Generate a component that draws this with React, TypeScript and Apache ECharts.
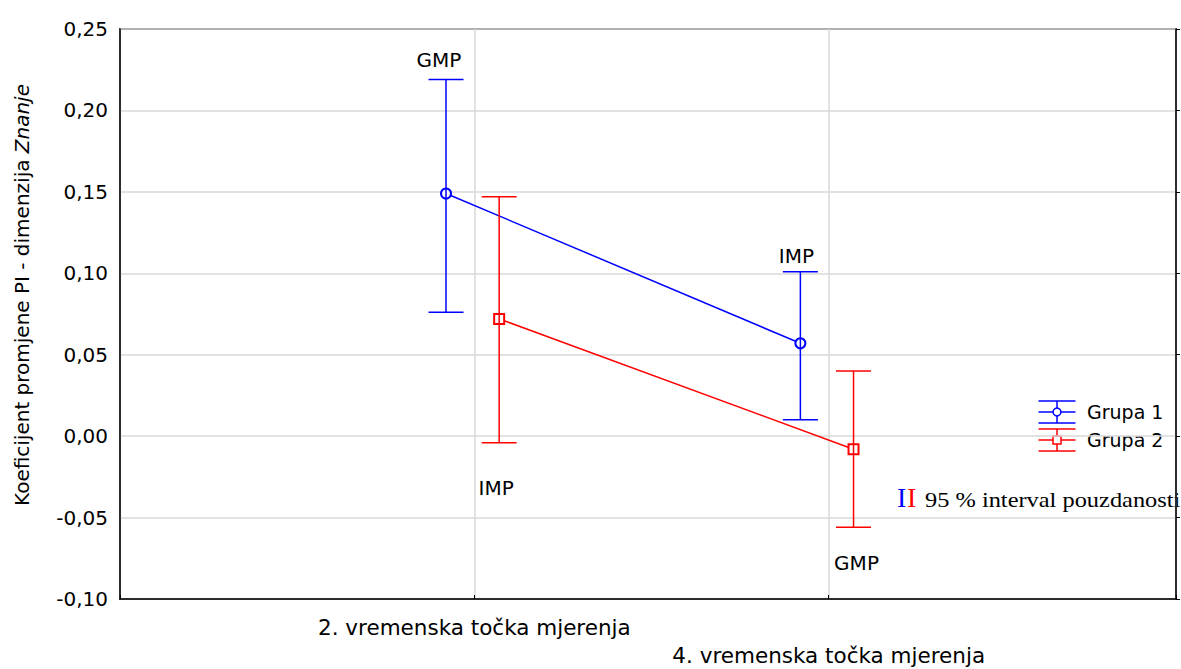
import React, { useEffect, useRef } from "react";
import * as echarts from "echarts";

// ---- data ----
const categories = ["2. vremenska točka mjerenja", "4. vremenska točka mjerenja"];
const seriesNames = ["Grupa 1", "Grupa 2"];
const group1Mean = [0.149, 0.057];
const group1Low = [0.076, 0.010];
const group1High = [0.219, 0.101];
const group2Mean = [0.072, -0.008];
const group2Low = [-0.004, -0.056];
const group2High = [0.147, 0.040];
const group1Notes = ["GMP", "IMP"];
const group2Notes = ["IMP", "GMP"];
const yTicks = { min: -0.1, max: 0.25, step: 0.05 };

const BLUE = "#0000ff";
const RED = "#ff0000";
const SANS = "DejaVu Sans";
const SERIF = "Liberation Serif";

// layout (styling) constants
const groupShift = [-0.08, 0.07];
// label offsets in pixels relative to the cap (above for group 1, below for group 2)
const noteOffsets = [
  [[-7, -19], [-4, -16]],
  [[-3, 45], [3, 36]],
];

export default function App() {
  const ref = useRef<HTMLDivElement | null>(null);

  useEffect(() => {
    document.body.style.margin = "0";
    if (!ref.current) return;
    const chart = echarts.init(ref.current, undefined, { renderer: "svg" });

    const groups = [
      { name: seriesNames[0], mean: group1Mean, lo: group1Low, hi: group1High, notes: group1Notes, color: BLUE, symbol: "emptyCircle" },
      { name: seriesNames[1], mean: group2Mean, lo: group2Low, hi: group2High, notes: group2Notes, color: RED, symbol: "emptyRect" },
    ];

    const series: any[] = [];
    groups.forEach((g, gi) => {
      series.push({
        name: g.name,
        type: "line",
        data: categories.map((_, i) => [i + 1 + groupShift[gi], g.mean[i]]),
        symbol: g.symbol,
        symbolSize: 10,
        lineStyle: { color: g.color, width: 1.5 },
        itemStyle: { color: g.color, borderColor: g.color, borderWidth: 1.5 },
        z: 3,
      });
      series.push({
        name: g.name + " CI",
        type: "custom",
        data: categories.map((_, i) => [i + 1 + groupShift[gi], g.lo[i], g.hi[i], i]),
        z: 4,
        renderItem: (params: any, api: any) => {
          const x = api.value(0);
          const lo = api.value(1);
          const hi = api.value(2);
          const idx = api.value(3);
          const top = api.coord([x, hi]);
          const bot = api.coord([x, lo]);
          const hw = 17.5;
          const st = { stroke: g.color, lineWidth: 1.5 };
          const off = noteOffsets[gi][idx];
          const anchor = gi === 0 ? top : bot;
          return {
            type: "group",
            children: [
              { type: "line", shape: { x1: top[0], y1: top[1], x2: bot[0], y2: bot[1] }, style: st },
              { type: "line", shape: { x1: top[0] - hw, y1: top[1], x2: top[0] + hw, y2: top[1] }, style: st },
              { type: "line", shape: { x1: bot[0] - hw, y1: bot[1], x2: bot[0] + hw, y2: bot[1] }, style: st },
              {
                type: "text",
                x: anchor[0] + off[0],
                y: anchor[1] + off[1],
                style: {
                  text: g.notes[idx],
                  fill: "#000",
                  fontSize: 20,
                  fontFamily: SANS,
                  align: "center",
                  verticalAlign: "middle",
                },
              },
            ],
          };
        },
      });
    });

    const legendGraphics: any[] = [];
    groups.forEach((g, gi) => {
      const cx = 1057;
      const cy = 412 + gi * 28;
      const st = { stroke: g.color, lineWidth: 1.5 };
      legendGraphics.push(
        { type: "line", shape: { x1: cx - 18.5, y1: cy - 11, x2: cx + 18.5, y2: cy - 11 }, style: st },
        { type: "line", shape: { x1: cx - 18.5, y1: cy, x2: cx + 18.5, y2: cy }, style: st },
        { type: "line", shape: { x1: cx - 18.5, y1: cy + 11, x2: cx + 18.5, y2: cy + 11 }, style: st },
        { type: "line", shape: { x1: cx, y1: cy - 11, x2: cx, y2: cy + 11 }, style: st },
        gi === 0
          ? { type: "circle", shape: { cx, cy, r: 4 }, style: { fill: "#fff", stroke: g.color, lineWidth: 1.5 } }
          : { type: "rect", shape: { x: cx - 4, y: cy - 4, width: 8, height: 8 }, style: { fill: "#fff", stroke: g.color, lineWidth: 1.5 } },
        {
          type: "text",
          x: 1087,
          y: cy,
          style: { text: g.name, fill: "#000", fontSize: 19, fontFamily: SANS, align: "left", verticalAlign: "middle" },
        }
      );
    });

    const fmt = (v: number) => v.toFixed(2).replace(".", ",");

    chart.setOption({
      animation: false,
      backgroundColor: "#fff",
      grid: { left: 120, right: 5, top: 29, bottom: 68, show: true, borderColor: "#000", borderWidth: 1.5, backgroundColor: "transparent" },
      xAxis: {
        type: "value",
        min: 0,
        max: 2.98,
        interval: 1,
        axisLine: { show: true, onZero: false, lineStyle: { color: "#000", width: 1.5 } },
        axisTick: { show: true, inside: true, length: 4, lineStyle: { color: "#000" } },
        splitLine: { show: true, lineStyle: { color: "#d9d9d9", width: 1.5 } },
        axisLabel: {
          color: "#000",
          fontSize: 21.5,
          fontFamily: SANS,
          margin: 14,
          lineHeight: 28,
          formatter: (v: number) => {
            const r = Math.round(v);
            if (Math.abs(v - r) > 1e-6 || r < 1 || r > categories.length) return "";
            return r === 2 ? "\n" + categories[r - 1] : categories[r - 1];
          },
        },
      },
      yAxis: [
        {
          type: "value",
          min: yTicks.min,
          max: yTicks.max,
          interval: yTicks.step,
          axisLine: { show: true, onZero: false, lineStyle: { color: "#000", width: 1.5 } },
          axisTick: { show: false },
          splitLine: { show: true, lineStyle: { color: "#d9d9d9", width: 1.5 } },
          axisLabel: { color: "#000", fontSize: 20, fontFamily: SANS, margin: 12, formatter: fmt },
        },
        {
          type: "value",
          position: "right",
          min: yTicks.min,
          max: yTicks.max,
          interval: yTicks.step,
          axisLine: { show: true, onZero: false, lineStyle: { color: "#000", width: 1.5 } },
          axisTick: { show: true, length: 4, lineStyle: { color: "#000" } },
          splitLine: { show: false },
          axisLabel: { show: false },
        },
      ],
      series,
      graphic: [
        {
          type: "text",
          x: 22,
          y: 295,
          rotation: Math.PI / 2,
          style: {
            text: "{a|Koeficijent promjene PI - dimenzija }{i|Znanje}",
            align: "center",
            verticalAlign: "middle",
            rich: {
              a: { fontSize: 20, fontFamily: SANS, fill: "#000" },
              i: { fontSize: 20, fontFamily: SANS, fontStyle: "italic", fill: "#000" },
            },
          },
        },
        ...legendGraphics,
        {
          type: "text",
          x: 897,
          y: 497,
          style: { text: "I", fill: BLUE, fontSize: 28, fontFamily: SERIF, align: "left", verticalAlign: "middle" },
        },
        {
          type: "text",
          x: 907,
          y: 497,
          style: { text: "I", fill: RED, fontSize: 28, fontFamily: SERIF, align: "left", verticalAlign: "middle" },
        },
        {
          type: "text",
          x: 925,
          y: 500,
          scaleX: 1.22,
          style: { text: "95 % interval pouzdanosti", fill: "#000", fontSize: 20, fontFamily: SERIF, align: "left", verticalAlign: "middle" },
        },
      ],
    });

    return () => chart.dispose();
  }, []);

  return <div ref={ref} style={{ width: 1181, height: 669 }} />;
}
